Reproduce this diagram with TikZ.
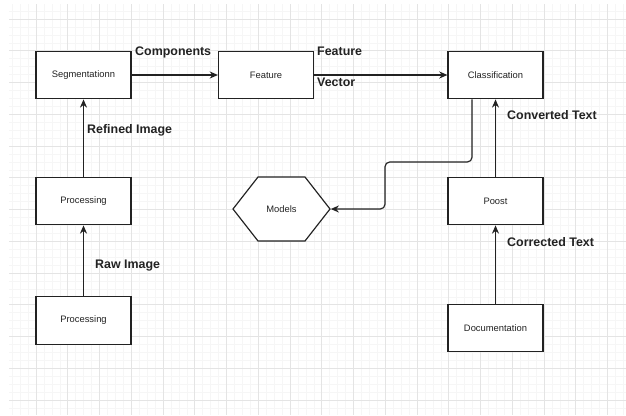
\documentclass[tikz,border=0pt]{standalone}
\usepackage{fontspec}
\setmainfont{Liberation Sans}
\usetikzlibrary{arrows.meta,shapes.symbols}
\definecolor{minorgray}{HTML}{F6F6F6}
\definecolor{majorgray}{HTML}{E4E4E4}
\definecolor{inkgray}{HTML}{222222}
\tikzset{
  stagebox/.style={draw=inkgray, line width=1pt, fill=white, minimum width=2.85cm, minimum height=1.43cm, inner sep=0pt, font=\fontsize{8}{9}\selectfont, text=inkgray},
  modelbox/.style={draw=inkgray, line width=1pt, fill=white, signal, signal to=west and east, signal pointer angle=104, minimum width=2.91cm, minimum height=1.92cm, inner sep=0pt, font=\fontsize{8}{9}\selectfont, text=inkgray},
  flowlabel/.style={anchor=west, inner sep=0pt, font=\fontsize{10.6}{12}\selectfont\bfseries, text=inkgray},
  flow/.style={draw=inkgray, line width=1pt, -{Stealth[length=7pt, width=6pt]}},
  minorline/.style={draw=minorgray, line width=0.5pt},
  majorline/.style={draw=majorgray, line width=0.6pt}
}
\begin{document}
\begin{tikzpicture}[x=0.03cm, y=-0.03cm]
  \useasboundingbox (0,0) rectangle (626,415);
  % grid paper
  \begin{scope}
    \clip (9,4) rectangle (626,415);
    \foreach \i in {0,...,79}{
      \draw[minorline] ({4.25+\i*7.9375},0) -- ++(0,415);
    }
    \foreach \i in {0,...,52}{
      \draw[minorline] (0,{3.125+\i*7.9375}) -- ++(626,0);
    }
    \foreach \i in {0,...,19}{
      \draw[majorline] ({4.25+\i*31.75},0) -- ++(0,415);
    }
    \foreach \i in {1,...,13}{
      \draw[majorline] (0,{-12.75+\i*31.75}) -- ++(626,0);
    }
  \end{scope}
  % stages
  \node[stagebox] (seg) at (83.5,75) {Segmentationn};
  \node[stagebox] (feat) at (266,75) {Feature};
  \node[stagebox] (cls) at (495.5,75) {Classification};
  \node[stagebox] (proc) at (83.5,201) {Processing};
  \node[stagebox] (raw) at (83.5,320.5) {Processing};
  \node[modelbox] (models) at (281.5,209) {Models};
  \node[stagebox] (poost) at (495.5,201) {Poost};
  \node[stagebox] (doc) at (495.5,328) {Documentation};
  % connectors
  \coordinate (bend) at (385,162);
  \draw[flow] (raw) -- (proc);
  \draw[flow] (proc) -- (seg);
  \draw[flow] (seg) -- (feat);
  \draw[flow] (feat) -- (cls);
  \draw[flow, rounded corners=4pt] ([xshift=-0.705cm]cls.south) |- (bend) |- (models.east);
  \draw[flow] (doc) -- (poost);
  \draw[flow] (poost) -- (cls);
  % labels
  \node[flowlabel] (lcomp) at (135,52) {Components};
  \node[flowlabel] (lfeat) at (317,51) {Feature};
  \node[flowlabel] (lvec) at (317,82) {Vector};
  \node[flowlabel] (lref) at (87,130) {Refined Image};
  \node[flowlabel] (lraw) at (95,266) {Raw Image};
  \node[flowlabel] (lconv) at (507,115) {Converted Text};
  \node[flowlabel] (lcorr) at (507,242) {Corrected Text};
\end{tikzpicture}
\end{document}
